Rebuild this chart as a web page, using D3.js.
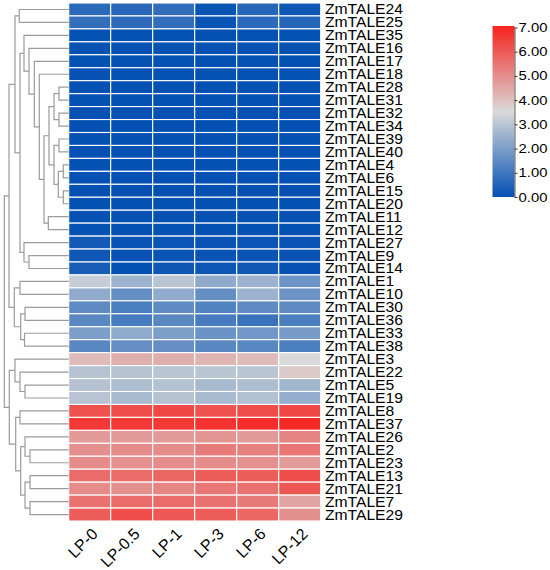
<!DOCTYPE html>
<html><head><meta charset="utf-8">
<script src="https://cdn.jsdelivr.net/npm/d3@7"></script>
<style>body{margin:0;background:#fff}svg{display:block}</style>
</head><body>
<svg id="chart" width="550" height="570"></svg>
<script>
// ---------- data ----------
const genes = ["ZmTALE24","ZmTALE25","ZmTALE35","ZmTALE16","ZmTALE17","ZmTALE18","ZmTALE28","ZmTALE31","ZmTALE32","ZmTALE34",
  "ZmTALE39","ZmTALE40","ZmTALE4","ZmTALE6","ZmTALE15","ZmTALE20","ZmTALE11","ZmTALE12","ZmTALE27","ZmTALE9",
  "ZmTALE14","ZmTALE1","ZmTALE10","ZmTALE30","ZmTALE36","ZmTALE33","ZmTALE38","ZmTALE3","ZmTALE22","ZmTALE5",
  "ZmTALE19","ZmTALE8","ZmTALE37","ZmTALE26","ZmTALE2","ZmTALE23","ZmTALE13","ZmTALE21","ZmTALE7","ZmTALE29"];
const samples = ["LP-0","LP-0.5","LP-1","LP-3","LP-6","LP-12"];
const values = [
  [0.65,0.60,0.75,0.10,0.55,0.20],
  [0.80,0.70,0.75,0.10,0.65,0.55],
  [0.05,0.05,0.05,0.02,0.05,0.05],
  [0.04,0.03,0.04,0.02,0.03,0.04],
  [0.05,0.04,0.05,0.03,0.04,0.03],
  [0.06,0.05,0.05,0.04,0.05,0.05],
  [0.02,0.02,0.02,0.02,0.02,0.02],
  [0.02,0.02,0.02,0.02,0.02,0.02],
  [0.02,0.02,0.02,0.02,0.02,0.02],
  [0.02,0.02,0.02,0.02,0.02,0.02],
  [0.03,0.02,0.03,0.02,0.02,0.02],
  [0.03,0.02,0.03,0.02,0.02,0.02],
  [0.02,0.02,0.02,0.02,0.02,0.02],
  [0.02,0.02,0.02,0.02,0.02,0.02],
  [0.02,0.02,0.02,0.02,0.02,0.02],
  [0.02,0.02,0.02,0.02,0.02,0.02],
  [0.04,0.03,0.04,0.03,0.03,0.03],
  [0.04,0.03,0.04,0.03,0.03,0.03],
  [0.25,0.08,0.10,0.08,0.10,0.08],
  [0.20,0.06,0.10,0.08,0.10,0.08],
  [0.32,0.03,0.18,0.15,0.20,0.06],
  [3.20,2.50,3.00,2.30,2.50,1.70],
  [2.30,1.60,2.30,1.60,2.50,1.70],
  [1.50,1.20,1.50,1.30,1.50,1.50],
  [1.40,1.10,1.40,1.10,0.90,1.20],
  [2.00,2.30,2.00,1.70,1.80,1.90],
  [1.40,1.60,1.60,1.40,1.40,1.20],
  [4.10,4.30,4.30,4.20,4.10,3.50],
  [2.90,2.90,3.00,3.00,3.00,3.80],
  [2.90,2.80,2.90,2.70,2.80,2.60],
  [2.95,2.70,2.90,2.70,2.85,2.40],
  [6.10,6.20,6.30,6.10,6.20,6.30],
  [6.60,6.60,6.60,6.70,6.80,6.90],
  [4.70,4.70,4.70,4.80,4.70,5.10],
  [4.90,5.00,5.00,5.30,5.20,5.40],
  [5.00,4.90,5.00,5.00,4.90,4.70],
  [5.60,5.60,5.70,5.90,5.90,6.20],
  [5.00,4.90,5.10,5.40,5.50,6.00],
  [5.50,5.60,5.60,5.50,5.30,4.50],
  [5.90,6.20,6.00,5.90,5.70,4.90]
];
const legendTicks = [0,1,2,3,4,5,6,7];
// merges (hclust style): negative = leaf row (1-based), positive = earlier merge (1-based), then height
const merges = [
  [-1,-2,49.4],[-7,-8,9.7],[-9,-10,9.7],[2,3,14.7],[-11,-12,9.7],[-13,-14,5.4],[-15,-16,5.4],[6,7,10.4],
  [5,8,14.7],[4,9,19.7],[-17,-18,20.4],[10,11,24.7],[-6,12,29.4],[-5,13,34.4],[-4,14,39.7],[-3,15,44.7],
  [-20,-21,39.7],[-19,17,44.7],[16,18,48.7],[1,19,53.7],[-22,-23,48.7],[-24,-25,43.7],[-26,-27,44.2],
  [22,23,48],[21,24,54.4],[20,25,59.7],[-30,-31,43.7],[-29,27,48.7],[-28,28,53.7],[-32,-33,48.7],
  [-35,-36,38.7],[-34,31,43.7],[-37,-38,38.7],[-39,-40,38.7],[33,34,43.7],[32,35,48],[30,36,53],
  [29,37,59.4],[26,38,64.4]
];

// ---------- layout ----------
const svg = d3.select("#chart");
const FONT = "'Liberation Sans', Arial, Helvetica, sans-serif";
const hm = {x0: 68.7, x1: 320.7, y0: 3, y1: 521};

const x = d3.scaleBand().domain(samples).range([hm.x0, hm.x1]);
const y = d3.scaleBand().domain(genes).range([hm.y0, hm.y1]);
const color = d3.scaleLinear().domain([0, 3.5, 7]).range(["#0350b3", "#d9d9d9", "#f5231f"]).clamp(true);

// cells
const cells = [];
values.forEach((row, i) => row.forEach((v, j) => cells.push({g: genes[i], s: samples[j], v})));
svg.append("g").selectAll("rect").data(cells).join("rect")
  .attr("x", d => x(d.s)).attr("y", d => y(d.g))
  .attr("width", x.bandwidth()).attr("height", y.bandwidth())
  .attr("fill", d => color(d.v))
  .attr("stroke", "#fff").attr("stroke-width", 1.1);

// row labels
svg.append("g").selectAll("text").data(genes).join("text")
  .attr("transform", d => `translate(325,${y(d) + y.bandwidth()/2 + 5}) scale(1.08,1)`)
  .attr("font-family", FONT).attr("font-size", 14.5).attr("fill", "#000")
  .text(d => d);

// column labels
svg.append("g").selectAll("text").data(samples).join("text")
  .attr("transform", d => `translate(${x(d) + x.bandwidth()/2 + 9},535) rotate(-45)`)
  .attr("text-anchor", "end")
  .attr("font-family", FONT).attr("font-size", 16).attr("fill", "#000")
  .text(d => d);

// dendrogram
const maxH = d3.max(merges, m => m[2]);
const dx = d3.scaleLinear().domain([0, maxH]).range([hm.x0, 4.3]);
const nodes = [];
function pos(ref) {
  if (ref < 0) { const g = genes[-ref - 1]; return {x: dx(0), y: y(g) + y.bandwidth()/2}; }
  return nodes[ref - 1];
}
const segs = [];
merges.forEach(m => {
  const a = pos(m[0]), b = pos(m[1]);
  const nx = dx(m[2]);
  segs.push([[a.x, a.y],[nx, a.y],[nx, b.y],[b.x, b.y]]);
  nodes.push({x: nx, y: (a.y + b.y) / 2});
});
svg.append("g").selectAll("path").data(segs).join("path")
  .attr("d", d => d3.line()(d))
  .attr("fill", "none").attr("stroke", "#9b9b9b").attr("stroke-width", 1.2);

// colour legend
const lg = {x: 492.5, w: 22, top: 26, bottom: 197};
const ly = d3.scaleLinear().domain([0, 7]).range([lg.bottom, lg.top + 1.5]);
const grad = svg.append("defs").append("linearGradient").attr("id", "lgGrad")
  .attr("x1", 0).attr("y1", 1).attr("x2", 0).attr("y2", 0);
grad.selectAll("stop").data(color.domain()).join("stop")
  .attr("offset", d => d / 7).attr("stop-color", d => color(d));
svg.append("rect").attr("x", lg.x).attr("y", lg.top).attr("width", lg.w).attr("height", lg.bottom - lg.top)
  .attr("fill", "url(#lgGrad)");
const axis = svg.append("g").attr("transform", `translate(${lg.x + lg.w},0)`)
  .call(d3.axisRight(ly).tickValues(legendTicks).tickSize(3).tickSizeOuter(0).tickFormat(d3.format(".2f")));
axis.select(".domain").attr("stroke", "#333").attr("stroke-width", 0.8);
axis.selectAll(".tick line").attr("stroke", "#333");
axis.selectAll(".tick text")
  .attr("x", 0).attr("dy", null).attr("dominant-baseline", "middle")
  .attr("transform", "translate(4,0.5) scale(1.1,1)")
  .attr("font-family", FONT).attr("font-size", 13.5).attr("fill", "#000");
</script>
</body></html>
